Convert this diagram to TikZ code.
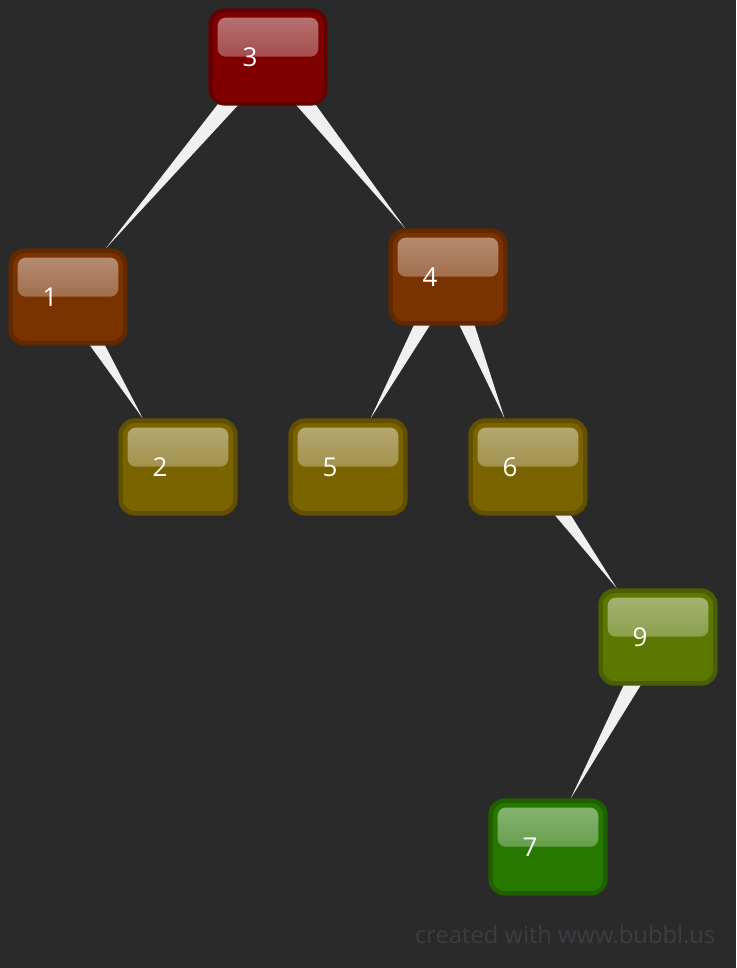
\documentclass[tikz,border=0pt]{standalone}
\usepackage{fontspec}
\setmainfont{Open Sans}
\usetikzlibrary{calc,backgrounds,fadings}
\definecolor{bgcol}{HTML}{2A2A2A}
\definecolor{redbox}{HTML}{800000}
\definecolor{brownbox}{HTML}{7A3200}
\definecolor{olivebox}{HTML}{7A6400}
\definecolor{limebox}{HTML}{5C7800}
\definecolor{greenbox}{HTML}{267800}
\definecolor{spokecol}{HTML}{F0F0F0}
\definecolor{markcol}{HTML}{3C3D42}
\tikzfading[name=glossfade, top color=transparent!0, bottom color=transparent!100]
\tikzset{
	bubble/.style={draw=#1!80!black, fill=#1, line width=3.4pt, rounded corners=10.5pt,
		minimum height=69.5pt, text width=38pt, inner xsep=24pt, inner ysep=0pt,
		align=left, text=white, font=\fontsize{19.5}{19.5}\selectfont,
		path picture={
			\fill[white, fill opacity=0.3, rounded corners=6pt]
				($(path picture bounding box.north west)+(5.25pt,-5.25pt)$) rectangle
				($(path picture bounding box.north east)+(-5.25pt,-34.5pt)$);
			\fill[white, fill opacity=0.2, rounded corners=6pt, path fading=glossfade]
				($(path picture bounding box.north west)+(5.25pt,-5.25pt)$) rectangle
				($(path picture bounding box.north east)+(-5.25pt,-34.5pt)$);
		}},
	spoke/.style={fill=spokecol},
}
\def\taper(#1)(#2){\fill[spoke] ($(#1)!8pt!90:(#2)$) -- ($(#1)!8pt!-90:(#2)$) -- (#2) -- cycle;}

\begin{document}
\begin{tikzpicture}[x=0.75pt, y=-0.75pt]
		%%%%% START %%%%%
		\node[bubble=redbox] (n3) at (268, 57) {3};
		\node[bubble=brownbox] (n1) at (68, 297) {1};
		\node[bubble=brownbox] (n4) at (448, 277) {4};
		\node[bubble=olivebox] (n2) at (178, 467) {2};
		\node[bubble=olivebox] (n5) at (348, 467) {5};
		\node[bubble=olivebox] (n6) at (528, 467) {6};
		\node[bubble=limebox] (n9) at (658, 637) {9};
		\node[bubble=greenbox] (n7) at (548, 847) {7};
		
		\node[anchor=east, text=markcol, font=\fontsize{17.8}{17.8}\selectfont] (mark) at (720, 935) {created with www.bubbl.us};
		
		\begin{scope}[on background layer]
			\fill[bgcol] (0, 0) rectangle (736, 968);
			\taper(n3)(n1)
			\taper(n3)(n4)
			\taper(n1)(n2)
			\taper(n4)(n5)
			\taper(n4)(n6)
			\taper(n6)(n9)
			\taper(n9)(n7)
		\end{scope}
		%%%%% END %%%%%
\end{tikzpicture}
\end{document}
